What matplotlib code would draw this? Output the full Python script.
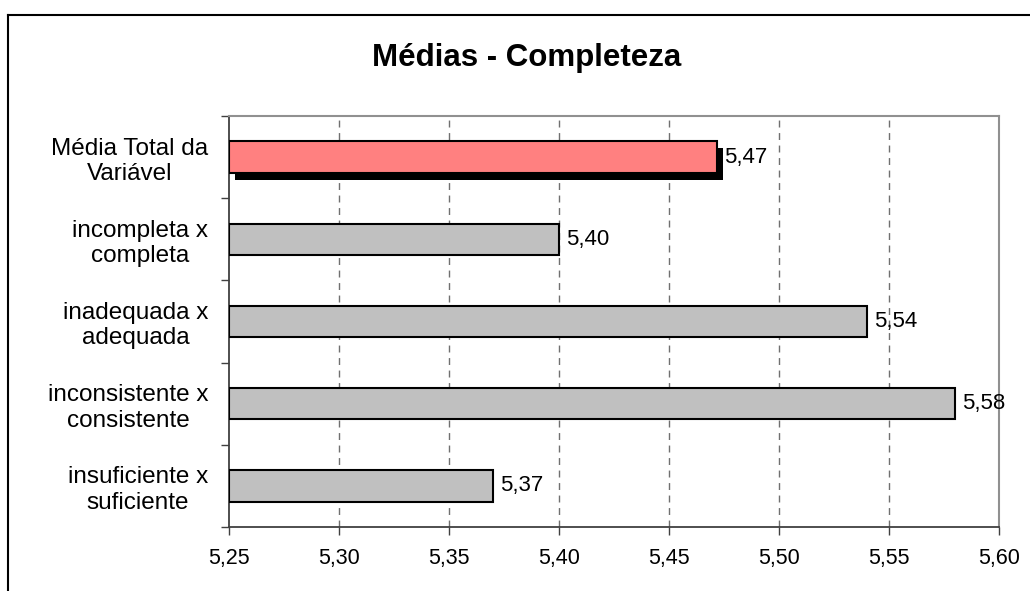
import matplotlib.pyplot as plt
import matplotlib.patheffects as pe
from matplotlib.lines import Line2D
import numpy as np

plt.rcParams['font.family'] = ['Liberation Sans', 'DejaVu Sans']

# data
categories = ['Média Total da\nVariável', 'incompleta x\ncompleta', 'inadequada x\nadequada',
              'inconsistente x\nconsistente', 'insuficiente x\nsuficiente']
values = [5.472, 5.40, 5.54, 5.58, 5.37]
colors = ['#FF8080', '#C0C0C0', '#C0C0C0', '#C0C0C0', '#C0C0C0']
xticks = [5.25, 5.30, 5.35, 5.40, 5.45, 5.50, 5.55, 5.60]

fig = plt.figure(figsize=(10.3, 5.91), dpi=100)
ax = fig.add_axes([229/1030, 1 - 527/591, (999 - 229)/1030, (527 - 116)/591])

y = np.arange(len(categories))
bars = ax.barh(y, [v - 5.25 for v in values], left=5.25, height=0.38,
               color=colors, edgecolor='black', linewidth=1.5, zorder=3)
# shadow on the total bar
bars[0].set_path_effects([pe.SimplePatchShadow(offset=(4.3, -5.0), shadow_rgbFace='black', alpha=1.0),
                          pe.Normal()])

for yi, v in zip(y, values):
    ax.annotate(f'{v:.2f}'.replace('.', ','), (v, yi), xytext=(5, 0), textcoords='offset points',
                va='center', ha='left', fontsize=16, zorder=4)

ax.set_xlim(5.25, 5.60)
ax.set_ylim(len(categories) - 0.5, -0.5)
ax.set_xticks(xticks)
ax.set_xticklabels([f'{t:.2f}'.replace('.', ',') for t in xticks], fontsize=15.5)
ax.tick_params(axis='x', direction='out', length=6, width=1, color='#404040', pad=9)

ax.set_yticks(y)
ax.set_yticklabels(categories, fontsize=17.5)
for t in ax.get_yticklabels():
    t.set_multialignment('center')
ax.tick_params(axis='y', which='major', length=0, pad=15)
ax.set_yticks(np.arange(len(categories) + 1) - 0.5, minor=True)
ax.tick_params(axis='y', which='minor', direction='out', length=6, width=1, color='#404040')

for t in xticks[1:-1]:
    ax.axvline(t, color='#707070', linestyle=(0, (5, 4)), linewidth=1, zorder=1)

for s in ['left', 'bottom']:
    ax.spines[s].set_color('#404040')
    ax.spines[s].set_linewidth(1.3)
for s in ['top', 'right']:
    ax.spines[s].set_color('#909090')
    ax.spines[s].set_linewidth(1.5)

fig.text(527/1030, 1 - 58/591, 'Médias - Completeza', ha='center', va='center',
         fontsize=22.5, fontweight='bold')

# outer chart frame (left and top edges visible)
fig.add_artist(Line2D([8/1030, 8/1030], [0, 1 - 15/591], transform=fig.transFigure,
                      color='black', linewidth=1.5))
fig.add_artist(Line2D([8/1030, 1], [1 - 15/591, 1 - 15/591], transform=fig.transFigure,
                      color='black', linewidth=1.5))

fig.savefig('out.png', dpi=100)
